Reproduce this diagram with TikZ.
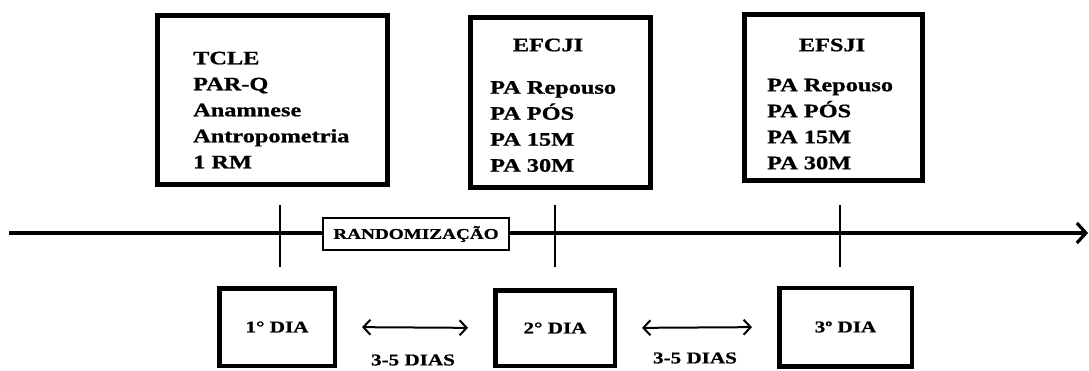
\documentclass[tikz,border=0pt]{standalone}
\usepackage{fontspec}
\usepackage{graphicx}
\setmainfont{Liberation Serif}[BoldFeatures={FakeBold=0.8}]
\usetikzlibrary{arrows.meta}
\newcommand{\wide}[1]{\scalebox{1.28}[1]{#1}}
\begin{document}
\begin{tikzpicture}[x=1pt,y=-1pt,
  bigbox/.style={draw,line width=5pt,inner sep=0pt},
  daybox/.style={draw,line width=4.5pt,inner sep=0pt,font=\bfseries\fontsize{16.5}{20}\selectfont},
  list/.style={font=\bfseries\fontsize{19}{26}\selectfont,align=left,inner sep=0pt,anchor=west},
  head/.style={font=\bfseries\fontsize{19}{26}\selectfont,inner sep=0pt},
  gap/.style={font=\bfseries\fontsize{16.5}{20}\selectfont,inner sep=0pt},
  tick/.style={line width=2.5pt},
  span/.style={line width=2pt,{Straight Barb[length=7pt,width=15pt]}-{Straight Barb[length=7pt,width=15pt]},shorten <=25pt,shorten >=25pt}]
\useasboundingbox (0,0) rectangle (1089,370);
% upper boxes
\node[bigbox,minimum width=230pt,minimum height=169pt] (boxA) at (272.5,100) {};
\node[bigbox,minimum width=180pt,minimum height=170pt] (boxB) at (560.5,102.5) {};
\node[bigbox,minimum width=178pt,minimum height=166pt] (boxC) at (833.5,97.5) {};
\node[list] (listA) at (193,110) {\wide{TCLE}\\\wide{PAR-Q}\\\wide{Anamnese}\\\wide{Antropometria}\\\wide{1 RM}};
\node[head] (headB) at (548,45) {\wide{EFCJI}};
\node[list] (listB) at (490,126.5) {\wide{PA Repouso}\\\wide{PA PÓS}\\\wide{PA 15M}\\\wide{PA 30M}};
\node[head] (headC) at (832,45) {\wide{EFSJI}};
\node[list] (listC) at (767,124) {\wide{PA Repouso}\\\wide{PA PÓS}\\\wide{PA 15M}\\\wide{PA 30M}};
% time line
\coordinate (t0) at (9,233);
\coordinate (t9) at (1088,233);
\draw[line width=3.2pt,-{Straight Barb[length=9pt,width=20pt]}] (t0) -- (t9);
\coordinate (k1a) at (280,205); \coordinate (k1b) at (280,267);
\coordinate (k2a) at (555,205); \coordinate (k2b) at (555,267);
\coordinate (k3a) at (840,205); \coordinate (k3b) at (840,267);
\draw[tick] (k1a) -- (k1b);
\draw[tick] (k2a) -- (k2b);
\draw[tick] (k3a) -- (k3b);
\node[draw,fill=white,line width=1.5pt,minimum width=186pt,minimum height=32pt,inner sep=0pt,font=\bfseries\fontsize{15}{16}\selectfont] (rand) at (416,234) {\wide{RANDOMIZAÇÃO}};
% days
\node[daybox,minimum width=115.5pt,minimum height=77.5pt] (d1) at (277,327) {\wide{1° DIA}};
\node[daybox,minimum width=119.5pt,minimum height=75.5pt] (d2) at (555,328) {\wide{2° DIA}};
\node[daybox,minimum width=132.5pt,minimum height=78.5pt] (d3) at (845.5,327) {\wide{3º DIA}};
\draw[span] (d1.east) -- (d2.west);
\draw[span] (d2.east) -- (d3.west);
\node[gap] (g1) at (413,360) {\wide{3-5 DIAS}};
\node[gap] (g2) at (695,358) {\wide{3-5 DIAS}};
\end{tikzpicture}
\end{document}
